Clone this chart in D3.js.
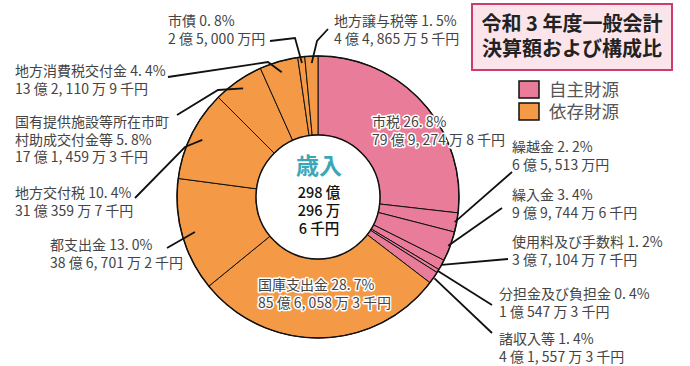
<!DOCTYPE html>
<html lang="ja">
<head>
<meta charset="utf-8">
<title>令和3年度一般会計 決算額および構成比</title>
<script src="https://cdn.jsdelivr.net/npm/d3@7"></script>
<style>
  body { margin: 0; background: #fff; }
  text { font-family: "Noto Sans CJK JP", "Noto Sans", sans-serif; }
</style>
</head>
<body>
<script>
// revenue items, clockwise from 12 o'clock
var categories = ["市税", "繰越金", "繰入金", "使用料及び手数料", "分担金及び負担金", "諸収入等",
  "国庫支出金", "都支出金", "地方交付税", "国有提供施設等所在市町村助成交付金等",
  "地方消費税交付金", "市債", "地方譲与税等"];
var percents = [26.8, 2.2, 3.4, 1.2, 0.4, 1.4, 28.7, 13.0, 10.4, 5.8, 4.4, 0.8, 1.5];
var amounts = ["79 億 9, 274 万 8 千円", "6 億 5, 513 万円", "9 億 9, 744 万 6 千円", "3 億 7, 104 万 7 千円",
  "1 億 547 万 3 千円", "4 億 1, 557 万 3 千円", "85 億 6, 058 万 3 千円", "38 億 6, 701 万 2 千円",
  "31 億 359 万 7 千円", "17 億 1, 459 万 3 千円", "13 億 2, 110 万 9 千円", "2 億 5, 000 万円",
  "4 億 4, 865 万 5 千円"];
var groups = ["自主財源", "自主財源", "自主財源", "自主財源", "自主財源", "自主財源",
  "依存財源", "依存財源", "依存財源", "依存財源", "依存財源", "依存財源", "依存財源"];
var legendItems = ["自主財源", "依存財源"];
var totalLines = ["298 億", "296 万", "6 千円"];
var titleLines = ["令和 3 年度一般会計", "決算額および構成比"];

// label placement (layout only): first baseline, wrap position, leader elbow points, leader radius
var labelLayout = [
  {x: 372, y: 127, inside: true},
  {x: 512, y: 152, pts: [[512, 172]], r: 139},
  {x: 512, y: 200, pts: [[502, 208]], r: 139},
  {x: 512, y: 247, pts: [[508, 259]], r: 141},
  {x: 499, y: 299, pts: [[492, 305]], r: 141},
  {x: 499, y: 344, pts: [[492, 333]], r: 142},
  {x: 258, y: 290, inside: true},
  {x: 50, y: 250, pts: [[167, 248]], r: 128},
  {x: 15, y: 198, pts: [[135, 198], [185, 147]], r: 129},
  {x: 15, y: 127, wrap: 11, pts: [[177, 115], [218, 90]], r: 132},
  {x: 15, y: 76, pts: [[168, 77], [268, 62]], r: 130},
  {x: 168, y: 26, pts: [[270, 41], [295, 38]], r: 135},
  {x: 334, y: 26, pts: [[328, 29], [317, 41]], r: 134}
];

var w = 690, h = 366;
var cx = 318, cy = 197, outerR = 141, innerR = 62;
var lineH = 17.5;

var color = d3.scaleOrdinal().domain(legendItems).range(["#E97C98", "#F49A46"]);

var svg = d3.select("body").append("svg")
  .attr("width", w)
  .attr("height", h);

var pie = d3.pie().sort(null).value(function(d) { return d; });
var arcs = pie(percents);
var arc = d3.arc().innerRadius(innerR).outerRadius(outerR);

var g = svg.append("g").attr("transform", "translate(" + cx + "," + cy + ")");

g.selectAll("path.slice")
  .data(arcs)
  .enter().append("path")
  .attr("class", "slice")
  .attr("d", arc)
  .attr("fill", function(d, i) { return color(groups[i]); })
  .attr("stroke", "#111")
  .attr("stroke-width", 1);

g.append("circle").attr("r", outerR).attr("fill", "none").attr("stroke", "#111").attr("stroke-width", 1.5);
g.append("circle").attr("r", innerR).attr("fill", "#fff").attr("stroke", "#111").attr("stroke-width", 1.5);

// center total
g.append("text")
  .attr("x", 1).attr("y", -23)
  .attr("text-anchor", "middle")
  .attr("font-size", 23).attr("font-weight", "bold")
  .attr("fill", "#3AA7B7")
  .text("歳入");
g.selectAll("text.total")
  .data(totalLines)
  .enter().append("text")
  .attr("class", "total")
  .attr("x", 1)
  .attr("y", function(d, i) { return 1 + i * 18; })
  .attr("text-anchor", "middle")
  .attr("font-size", 14.5).attr("font-weight", 500)
  .attr("fill", "#111")
  .text(function(d) { return d; });

// leader lines
var line = d3.line();
arcs.forEach(function(a, i) {
  var L = labelLayout[i];
  if (L.inside) return;
  var ang = (a.startAngle + a.endAngle) / 2;
  var end = [cx + L.r * Math.sin(ang), cy - L.r * Math.cos(ang)];
  svg.append("path")
    .attr("d", line(L.pts.concat([end])))
    .attr("fill", "none")
    .attr("stroke", "#111")
    .attr("stroke-width", 1.8);
});

// labels
function pct(v) { return v.toFixed(1).replace(".", ". ") + "%"; }

arcs.forEach(function(a, i) {
  var L = labelLayout[i];
  var name = categories[i];
  var lines;
  if (L.wrap) {
    lines = [name.slice(0, L.wrap), name.slice(L.wrap) + " " + pct(percents[i]), amounts[i]];
  } else {
    lines = [name + " " + pct(percents[i]), amounts[i]];
  }
  var t = svg.append("text")
    .attr("font-size", 14)
    .attr("fill", "#444");
  if (L.inside) {
    t.attr("stroke", "#fff").attr("stroke-width", 3).attr("paint-order", "stroke").attr("stroke-linejoin", "round");
  }
  t.selectAll("tspan")
    .data(lines)
    .enter().append("tspan")
    .attr("x", L.x)
    .attr("y", function(d, k) { return L.y + k * lineH; })
    .text(function(d) { return d; });
});

// title box
svg.append("rect")
  .attr("x", 472).attr("y", 4)
  .attr("width", 200).attr("height", 66)
  .attr("fill", "#FCE5EA")
  .attr("stroke", "#CC3D6E")
  .attr("stroke-width", 2);
svg.selectAll("text.title")
  .data(titleLines)
  .enter().append("text")
  .attr("class", "title")
  .attr("x", 572)
  .attr("y", function(d, i) { return 31 + i * 25; })
  .attr("text-anchor", "middle")
  .attr("font-size", 20).attr("font-weight", "bold")
  .attr("fill", "#222")
  .text(function(d) { return d; });

// legend
var legend = svg.selectAll("g.legend")
  .data(legendItems)
  .enter().append("g")
  .attr("class", "legend")
  .attr("transform", function(d, i) { return "translate(519," + (81 + i * 22) + ")"; });
legend.append("rect")
  .attr("width", 20).attr("height", 17)
  .attr("fill", function(d) { return color(d); })
  .attr("stroke", "#111").attr("stroke-width", 1.5);
legend.append("text")
  .attr("x", 30).attr("y", 15)
  .attr("font-size", 17.5)
  .attr("fill", "#555")
  .text(function(d) { return d; });
</script>
</body>
</html>
